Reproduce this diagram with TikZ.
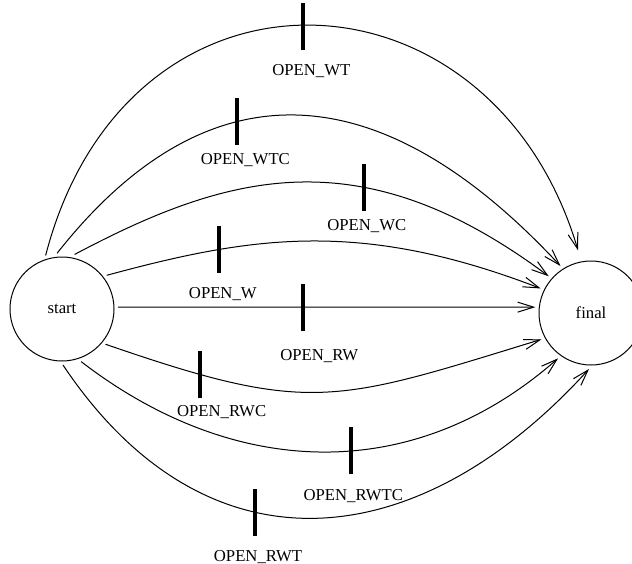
\documentclass[tikz,border=0pt]{standalone}
\usepackage{fontspec}
\setmainfont{Liberation Serif}
\usetikzlibrary{arrows.meta,positioning}

\begin{document}
\begin{tikzpicture}[x=0.5pt, y=-0.5pt, line width=0.5pt,
    font=\fontsize{8.35}{10}\selectfont,
    >={Straight Barb[length=8pt,width=5pt]},
    state/.style={circle, draw, minimum size=52pt, inner sep=0pt, outer sep=2pt},
    tickbar/.style={fill, inner sep=0pt, minimum width=2pt, minimum height=23.5pt},
    lbl/.style={inner sep=0pt, text height=5.5pt, text depth=0pt}]
    \useasboundingbox (0,0) rectangle (632,563);
    \node[state] (start) at (62,309) {start};
    \node[state] (final) at (591,313) {final};
    \draw[->, shorten >=4pt] (start.107) .. controls (127,-58) and (491,-43) .. (final.101)
        node[tickbar, pos=0.49] (wtbar) {};
    \draw[->] (start.95) .. controls (196,77) and (366,57) .. (final.123)
        node[tickbar, pos=0.398] (wtcbar) {};
    \draw[->] (start.77) .. controls (230,172) and (362,137) .. (final.139)
        node[tickbar, pos=0.638] (wcbar) {};
    \draw[->] (start.37) .. controls (252,236) and (360,219) .. (final.154)
        node[tickbar, pos=0.272] (wbar) {};
    \draw[->] (start.2) -- (final.174)
        node[tickbar, pos=0.444] (rwbar) {};
    \draw[->] (start.321) .. controls (310,415) and (334,403) .. (final.208)
        node[tickbar, pos=0.178] (rwcbar) {};
    \draw[->] (start.290) .. controls (235,480) and (414,485) .. (final.234)
        node[tickbar, pos=0.557] (rwtcbar) {};
    \draw[->] (start.271) .. controls (206,579) and (417,558) .. (final.268)
        node[tickbar, pos=0.39] (rwtbar) {};
    \node[lbl, below=7pt of wtbar, xshift=4pt] (wtlabel) {OPEN\_WT};
    \node[lbl, below=3.5pt of wtcbar, xshift=4pt] (wtclabel) {OPEN\_WTC};
    \node[lbl, below=3.5pt of wcbar, xshift=1.5pt] (wclabel) {OPEN\_WC};
    \node[lbl, below=7pt of wbar, xshift=1.8pt] (wlabel) {OPEN\_W};
    \node[lbl, below=9pt of rwbar, xshift=8pt] (rwlabel) {OPEN\_RW};
    \node[lbl, below=3.5pt of rwcbar, xshift=11pt] (rwclabel) {OPEN\_RWC};
    \node[lbl, below=7pt of rwtcbar, xshift=1pt] (rwtclabel) {OPEN\_RWTC};
    \node[lbl, below=7pt of rwtbar, xshift=1.5pt] (rwtlabel) {OPEN\_RWT};
\end{tikzpicture}
\end{document}
